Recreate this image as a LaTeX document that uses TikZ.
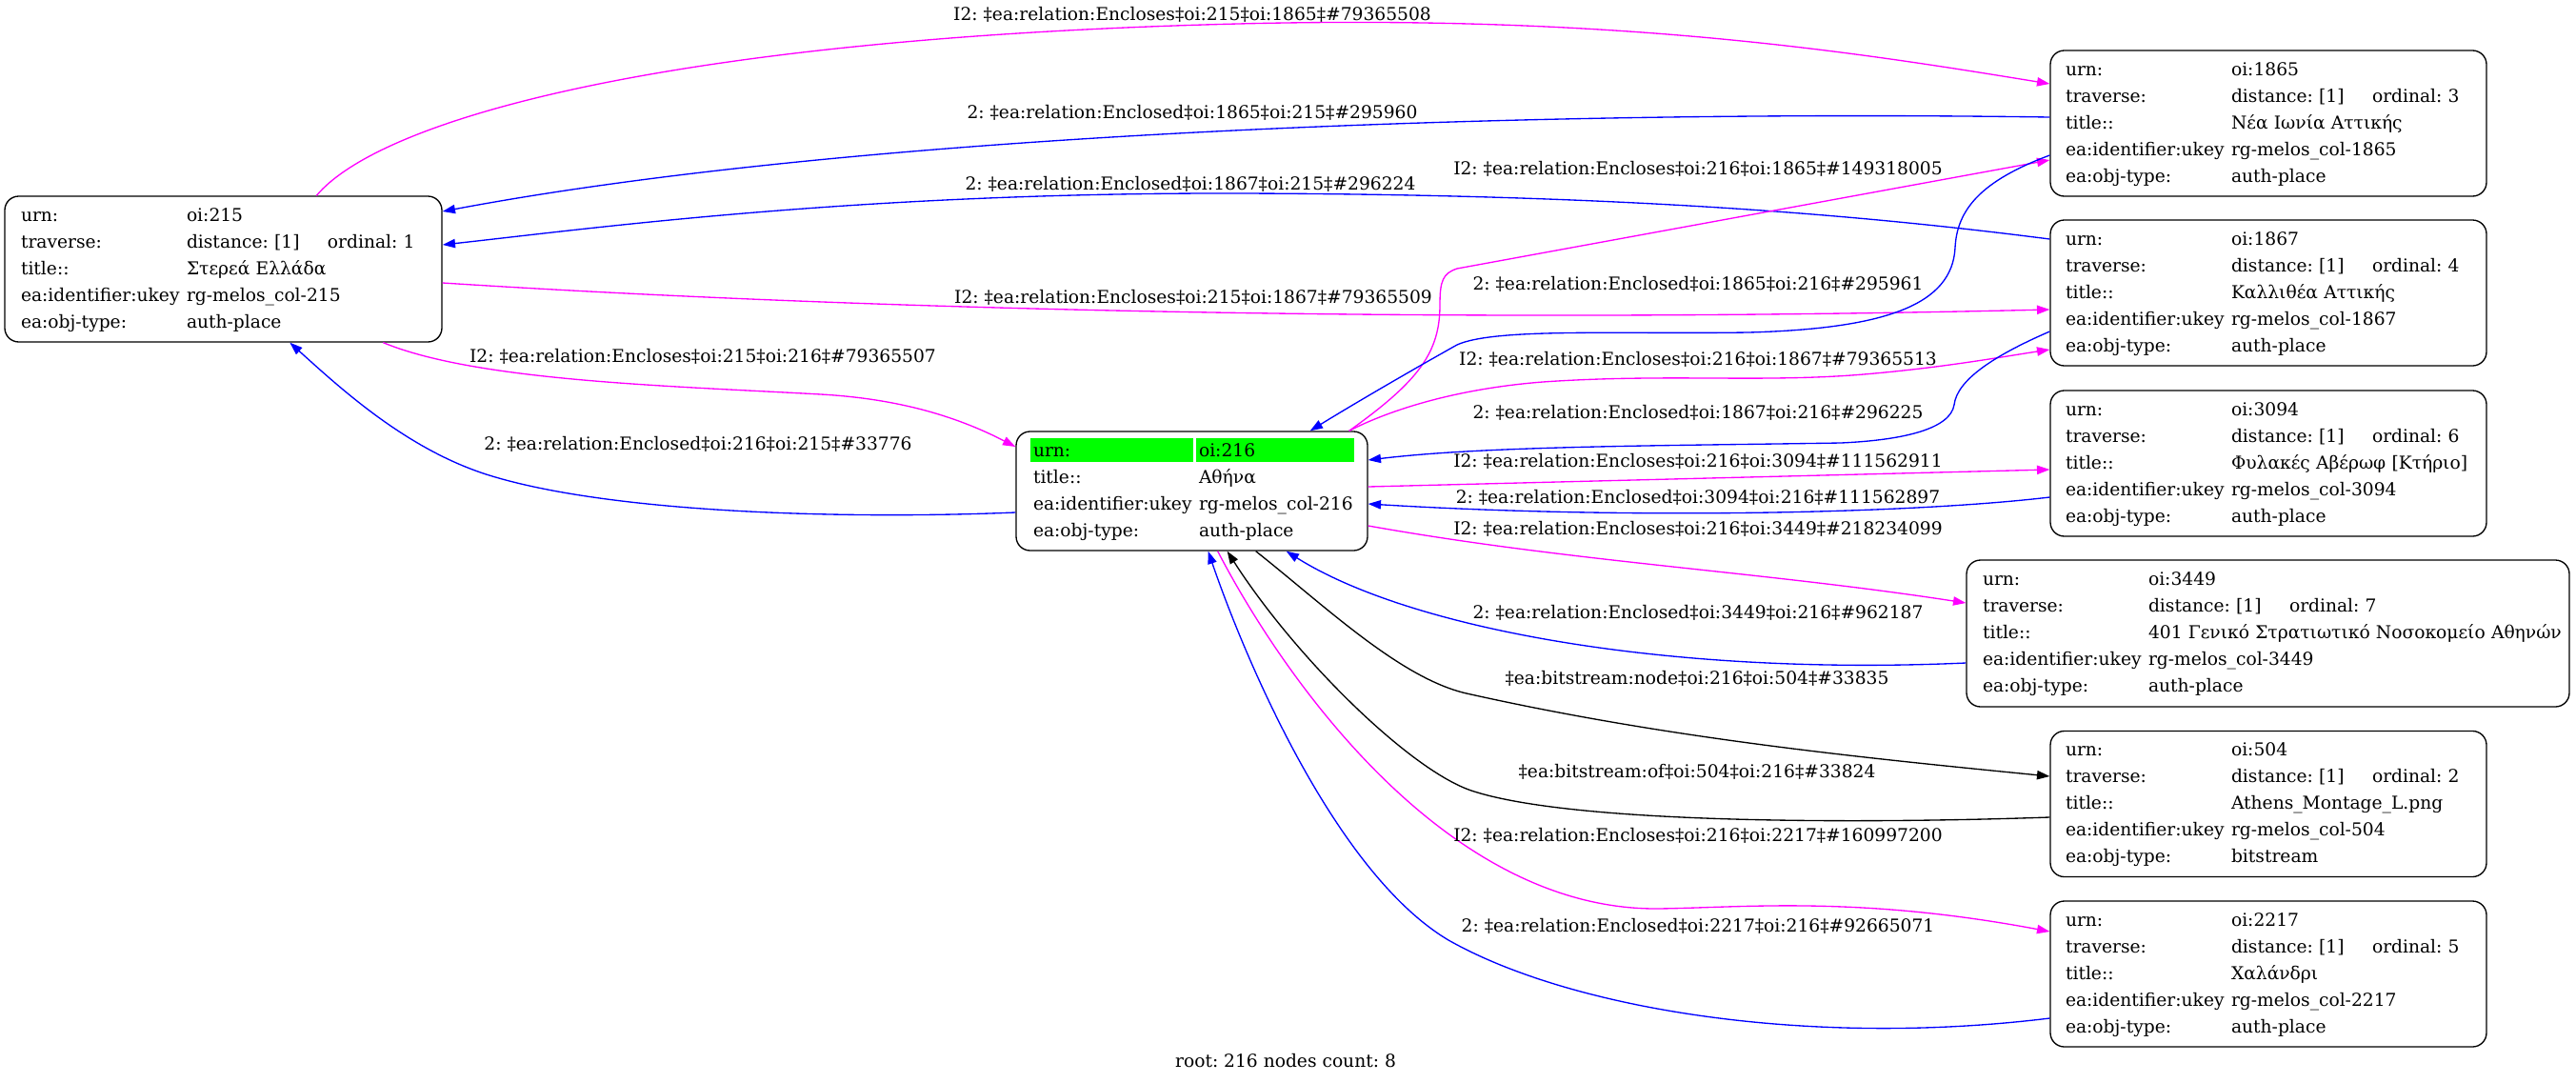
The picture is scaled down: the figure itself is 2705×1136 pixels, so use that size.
\documentclass[tikz,border=0pt]{standalone}
\usepackage{fontspec}
\setmainfont{DejaVu Serif}
\usetikzlibrary{arrows.meta,calc}
\definecolor{gvgreen}{RGB}{0,255,0}
\definecolor{gvmag}{RGB}{255,0,255}
\definecolor{gvblue}{RGB}{0,0,255}
\newcommand\gvf{\fontsize{14pt}{21pt}\selectfont\frenchspacing}
\newcommand\kv[2]{\mbox{\strut\makebox[130.5pt][l]{#1}#2}}
\newcommand\trv[1]{\mbox{\strut\makebox[130.5pt][l]{traverse:}\makebox[111pt][l]{distance: [1]}ordinal: #1}}
\newcommand\ckv[2]{\mbox{\strut\hspace{2.25pt}\makebox[130.5pt][l]{#1}#2}}
\setlength{\fboxsep}{0pt}
\frenchspacing
\tikzset{
  box/.style={draw, line width=1pt, rounded corners=11pt, fill=white, inner ysep=0pt, align=left, font=\gvf},
  rbox/.style={box, inner xsep=12pt, text width=319.5pt, minimum height=114.75pt},
  lbox/.style={box, inner xsep=12.75pt, text width=318.75pt, minimum height=114.75pt},
  wbox/.style={box, inner xsep=12.75pt, text width=449.25pt, minimum height=115.5pt},
  cbox/.style={box, inner xsep=11.25pt, text width=254.25pt, minimum height=93.75pt},
  conn/.style={line width=1pt, -{Triangle[length=10pt,width=7pt]}},
  enc/.style={conn, draw=gvmag},
  encd/.style={conn, draw=gvblue},
  bit/.style={conn, draw=black},
  elab/.style={font=\gvf, inner sep=0pt},
}
\begin{document}
\begin{tikzpicture}[x=0.75pt,y=-0.75pt]
\useasboundingbox (0,0) rectangle (2705,1136);
% nodes
\node[lbox] (n215) at (234.5,282.5) {\kv{urn:}{oi:215}\\ \trv{1}\\ \kv{title::}{Στερεά Ελλάδα}\\ \kv{ea:identifier:ukey}{rg-melos\_col-215}\\ \kv{ea:obj-type:}{auth-place}};
\node[cbox] (n216) at (1251.5,515.5) {\mbox{\strut\colorbox{gvgreen}{\makebox[128.25pt][l]{\hspace{2.25pt}\rule[-4.65pt]{0pt}{18.75pt}urn:}}\hspace{2.25pt}\colorbox{gvgreen}{\makebox[124.5pt][l]{\hspace{2.25pt}\rule[-4.65pt]{0pt}{18.75pt}oi:216}}}\\
 \ckv{title::}{Αθήνα}\\
 \ckv{ea:identifier:ukey}{rg-melos\_col-216}\\
 \ckv{ea:obj-type:}{auth-place}};
\node[rbox] (n1865) at (2382,129.5) {\kv{urn:}{oi:1865}\\ \trv{3}\\ \kv{title::}{Νέα Ιωνία Αττικής}\\ \kv{ea:identifier:ukey}{rg-melos\_col-1865}\\ \kv{ea:obj-type:}{auth-place}};
\node[rbox] (n1867) at (2382,307.5) {\kv{urn:}{oi:1867}\\ \trv{4}\\ \kv{title::}{Καλλιθέα Αττικής}\\ \kv{ea:identifier:ukey}{rg-melos\_col-1867}\\ \kv{ea:obj-type:}{auth-place}};
\node[rbox] (n3094) at (2382,486.5) {\kv{urn:}{oi:3094}\\ \trv{6}\\ \kv{title::}{Φυλακές Αβέρωφ [Κτήριο]}\\ \kv{ea:identifier:ukey}{rg-melos\_col-3094}\\ \kv{ea:obj-type:}{auth-place}};
\node[wbox] (n3449) at (2381.5,665) {\kv{urn:}{oi:3449}\\ \trv{7}\\ \kv{title::}{401 Γενικό Στρατιωτικό Νοσοκομείο Αθηνών}\\ \kv{ea:identifier:ukey}{rg-melos\_col-3449}\\ \kv{ea:obj-type:}{auth-place}};
\node[rbox] (n504) at (2382,844) {\kv{urn:}{oi:504}\\ \trv{2}\\ \kv{title::}{Athens\_Montage\_L.png}\\ \kv{ea:identifier:ukey}{rg-melos\_col-504}\\ \kv{ea:obj-type:}{bitstream}};
\node[rbox] (n2217) at (2382,1022.5) {\kv{urn:}{oi:2217}\\ \trv{5}\\ \kv{title::}{Χαλάνδρι}\\ \kv{ea:identifier:ukey}{rg-melos\_col-2217}\\ \kv{ea:obj-type:}{auth-place}};
% edges
\draw[enc] ($(n215.north west)+(328,0)$) .. controls (400,125) and (700,40) .. (1300,25) .. controls (1700,15) and (1950,55) .. ($(n1865.west)+(0,-41.5)$);
\draw[encd] ($(n1865.west)+(0,-6.5)$) .. controls (1600,115) and (900,140) .. ($(n215.east)+(0,-60.5)$);
\draw[encd] ($(n1867.west)+(0,-56.5)$) .. controls (1950,225) and (1700,204) .. (1300,203) .. controls (900,202) and (620,240) .. ($(n215.east)+(0,-25.5)$);
\draw[enc] ($(n215.east)+(0,14.5)$) .. controls (900,325) and (1500,340) .. ($(n1867.west)+(0,17.5)$);
\draw[enc] ($(n216.north east)+(-20,0)$) .. controls (1490,400) and (1512,370) .. (1512,320) .. controls (1512,295) and (1515,287) .. (1530,282) -- ($(n1865.west)+(0,38.5)$);
\draw[encd] ($(n1865.west)+(0,33.5)$) .. controls (2080,190) and (2055,220) .. (2053,260) .. controls (2050,320) and (1980,345) .. (1836,349) .. controls (1700,351) and (1570,344) .. (1530,362) .. controls (1480,390) and (1420,425) .. ($(n216.north east)+(-61,0)$);
\draw[enc] ($(n216.north east)+(-20,0)$) .. controls (1460,430) and (1530,408) .. (1620,401) .. controls (1750,392) and (1850,402) .. (1957,393) .. controls (2040,386) and (2100,375) .. ($(n1867.west)+(0,59.5)$);
\draw[encd] ($(n1867.west)+(0,40.5)$) .. controls (2090,375) and (2055,400) .. (2052,425) .. controls (2048,450) and (2000,462) .. (1933,465) .. controls (1750,468) and (1560,468) .. ($(n216.east)+(0,-32.5)$);
\draw[enc] ($(n216.east)+(0,-4.5)$) -- ($(n3094.west)+(0,6.5)$);
\draw[encd] ($(n3094.west)+(0,35.5)$) .. controls (2000,540) and (1700,545) .. ($(n216.east)+(0,13.5)$);
\draw[enc] ($(n216.east)+(0,36.5)$) .. controls (1650,590) and (1850,600) .. ($(n3449.west)+(0,-32)$);
\draw[encd] ($(n3449.west)+(0,31)$) .. controls (1750,710) and (1480,660) .. ($(n216.south east)+(-86,0)$);
\draw[bit] ($(n216.south east)+(-118,0)$) .. controls (1390,635) and (1470,712) .. (1540,728) .. controls (1750,775) and (1950,795) .. ($(n504.west)+(0,-29)$);
\draw[bit] ($(n504.west)+(0,14)$) .. controls (1950,865) and (1650,865) .. (1545,830) .. controls (1480,808) and (1360,690) .. ($(n216.south east)+(-148,0)$);
\draw[enc] ($(n216.south east)+(-158,0)$) .. controls (1350,716) and (1520,955) .. (1740,954) .. controls (1830,953) and (1950,940) .. ($(n2217.west)+(0,-44.5)$);
\draw[encd] ($(n2217.west)+(0,46.5)$) .. controls (1900,1100) and (1650,1060) .. (1521,987) .. controls (1400,915) and (1305,685) .. ($(n216.south east)+(-168,0)$);
\draw[enc] ($(n215.south west)+(398,0)$) .. controls (500,400) and (700,405) .. (862,414) .. controls (950,419) and (1010,440) .. ($(n216.west)+(0,-46.5)$);
\draw[encd] ($(n216.west)+(0,22.5)$) .. controls (900,545) and (650,540) .. (517,500) .. controls (430,474) and (360,410) .. ($(n215.south west)+(300,0)$);
% labels
\node[elab] (l1) at (1252,15) {I2: ‡ea:relation:Encloses‡oi:215‡oi:1865‡\#79365508};
\node[elab] (l2) at (1252,118) {2: ‡ea:relation:Enclosed‡oi:1865‡oi:215‡\#295960};
\node[elab] (l3) at (1250,193) {2: ‡ea:relation:Enclosed‡oi:1867‡oi:215‡\#296224};
\node[elab] (l4) at (1253,312) {I2: ‡ea:relation:Encloses‡oi:215‡oi:1867‡\#79365509};
\node[elab] (l5) at (1783,177) {I2: ‡ea:relation:Encloses‡oi:216‡oi:1865‡\#149318005};
\node[elab] (l6) at (1783,298) {2: ‡ea:relation:Enclosed‡oi:1865‡oi:216‡\#295961};
\node[elab] (l7) at (1783,377) {I2: ‡ea:relation:Encloses‡oi:216‡oi:1867‡\#79365513};
\node[elab] (l8) at (1783,433) {2: ‡ea:relation:Enclosed‡oi:1867‡oi:216‡\#296225};
\node[elab] (l9) at (1783,484) {I2: ‡ea:relation:Encloses‡oi:216‡oi:3094‡\#111562911};
\node[elab] (l10) at (1783,522) {2: ‡ea:relation:Enclosed‡oi:3094‡oi:216‡\#111562897};
\node[elab] (l11) at (1783,555) {I2: ‡ea:relation:Encloses‡oi:216‡oi:3449‡\#218234099};
\node[elab] (l12) at (1783,643) {2: ‡ea:relation:Enclosed‡oi:3449‡oi:216‡\#962187};
\node[elab] (l13) at (1782,712) {‡ea:bitstream:node‡oi:216‡oi:504‡\#33835};
\node[elab] (l14) at (1782,810) {‡ea:bitstream:of‡oi:504‡oi:216‡\#33824};
\node[elab] (l15) at (1783,877) {I2: ‡ea:relation:Encloses‡oi:216‡oi:2217‡\#160997200};
\node[elab] (l16) at (1783,972) {2: ‡ea:relation:Enclosed‡oi:2217‡oi:216‡\#92665071};
\node[elab] (l17) at (738,374) {I2: ‡ea:relation:Encloses‡oi:215‡oi:216‡\#79365507};
\node[elab] (l18) at (733,466) {2: ‡ea:relation:Enclosed‡oi:216‡oi:215‡\#33776};
\node[elab] (cap) at (1350,1114) {root: 216 nodes count: 8};
\end{tikzpicture}
\end{document}
